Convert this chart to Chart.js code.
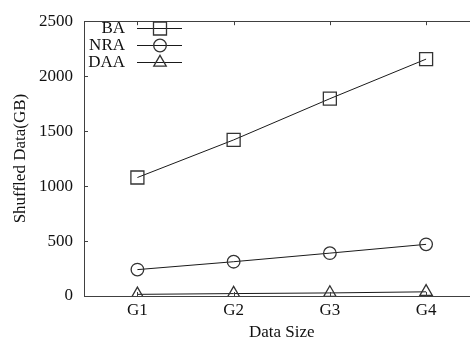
<!DOCTYPE html>
<html>
<head>
<meta charset="utf-8">
<script src="https://cdn.jsdelivr.net/npm/chart.js@4/dist/chart.umd.min.js"></script>
<style>
html,body{margin:0;padding:0;background:#fff;overflow:hidden;width:470px;height:338px;}
#wrap{position:absolute;left:0;top:0;width:490px;height:338px;}
</style>
</head>
<body>
<div id="wrap"><canvas id="c" width="490" height="338"></canvas></div>
<script>
const categories = ['G1', 'G2', 'G3', 'G4'];
const baValues = [1078, 1420, 1795, 2155];
const nraValues = [240, 312, 390, 470];
const daaValues = [15, 22, 28, 38];
const yTicks = [0, 500, 1000, 1500, 2000, 2500];
const seriesNames = ['BA', 'NRA', 'DAA'];

const FONT = "'Liberation Serif', 'Times New Roman', serif";
const toPoints = vals => vals.map((v, i) => ({x: i + 1, y: v}));

const styles = [
  {pointStyle: 'rect', pointRadius: 9.2},
  {pointStyle: 'circle', pointRadius: 6.3},
  {pointStyle: 'triangle', pointRadius: 7.2}
];
const allValues = [baValues, nraValues, daaValues];

const datasets = allValues.map((vals, k) => ({
  label: seriesNames[k],
  data: toPoints(vals),
  borderColor: '#1a1a1a',
  borderWidth: 1,
  pointStyle: styles[k].pointStyle,
  pointRadius: styles[k].pointRadius,
  pointBorderColor: '#333',
  pointBackgroundColor: 'rgba(0,0,0,0)',
  pointBorderWidth: 1.3,
  tension: 0
}));

const framePlugin = {
  id: 'frame',
  afterDraw(chart) {
    const {ctx, chartArea: a, scales} = chart;
    ctx.save();
    ctx.strokeStyle = '#404040';
    ctx.lineWidth = 1;
    ctx.beginPath();
    ctx.rect(Math.round(a.left) + 0.5, Math.round(a.top) + 0.5,
             Math.round(a.right - a.left), Math.round(a.bottom - a.top));
    ctx.stroke();
    ctx.beginPath();
    const yS = scales.y, xS = scales.x;
    yTicks.forEach(v => {
      const y = Math.round(yS.getPixelForValue(v)) + 0.5;
      ctx.moveTo(a.left, y); ctx.lineTo(a.left + 4, y);
      ctx.moveTo(a.right, y); ctx.lineTo(a.right - 4, y);
    });
    categories.forEach((c, i) => {
      const x = Math.round(xS.getPixelForValue(i + 1)) + 0.5;
      ctx.moveTo(x, a.top); ctx.lineTo(x, a.top + 4);
      ctx.moveTo(x, a.bottom); ctx.lineTo(x, a.bottom - 4);
    });
    ctx.stroke();
    ctx.restore();
  }
};

const legendPlugin = {
  id: 'gpLegend',
  afterDraw(chart) {
    const {ctx} = chart;
    ctx.save();
    ctx.font = '17px ' + FONT;
    ctx.textAlign = 'right';
    ctx.textBaseline = 'middle';
    chart.data.datasets.forEach((ds, k) => {
      const y = 28 + k * 17;
      ctx.fillStyle = '#111';
      ctx.fillText(ds.label, 125, y + 1);
      ctx.strokeStyle = ds.borderColor;
      ctx.lineWidth = 1;
      ctx.beginPath();
      ctx.moveTo(137, y + 0.5); ctx.lineTo(182, y + 0.5);
      ctx.stroke();
      ctx.fillStyle = 'rgba(0,0,0,0)';
      ctx.strokeStyle = ds.pointBorderColor;
      ctx.lineWidth = ds.pointBorderWidth;
      Chart.helpers.drawPoint(ctx, {pointStyle: ds.pointStyle, radius: ds.pointRadius, rotation: 0, borderWidth: ds.pointBorderWidth}, 160, y + 0.5);
    });
    ctx.restore();
  }
};

new Chart(document.getElementById('c'), {
  type: 'line',
  data: {datasets},
  options: {
    responsive: false,
    animation: false,
    events: [],
    layout: {padding: {left: 0, right: 8, top: 15, bottom: 0}},
    plugins: {legend: {display: false}, tooltip: {enabled: false}},
    scales: {
      x: {
        type: 'linear',
        min: 0.445,
        max: 4.555,
        afterBuildTicks(scale) { scale.ticks = categories.map((c, i) => ({value: i + 1})); },
        afterFit(scale) { scale.height = 42; },
        grid: {display: false, drawTicks: false},
        border: {display: false},
        ticks: {
          callback: (v) => categories[v - 1] || '',
          font: {family: FONT, size: 17},
          color: '#111',
          padding: 4,
          maxRotation: 0,
          autoSkip: false
        },
        title: {display: true, text: 'Data Size', font: {family: FONT, size: 17, lineHeight: 1}, color: '#111', padding: {top: 0, bottom: -3}}
      },
      y: {
        min: 0,
        max: 2500,
        afterBuildTicks(scale) { scale.ticks = yTicks.map(v => ({value: v})); },
        afterFit(scale) { scale.width = 84; },
        grid: {display: false, drawTicks: false},
        border: {display: false},
        ticks: {
          callback: (v) => String(v),
          font: {family: FONT, size: 17},
          color: '#111',
          padding: 11
        },
        title: {display: true, text: 'Shuffled Data(GB)', font: {family: FONT, size: 17, lineHeight: 1.2}, color: '#111', padding: {top: 10, bottom: 0}}
      }
    }
  },
  plugins: [framePlugin, legendPlugin]
});
</script>
</body>
</html>
